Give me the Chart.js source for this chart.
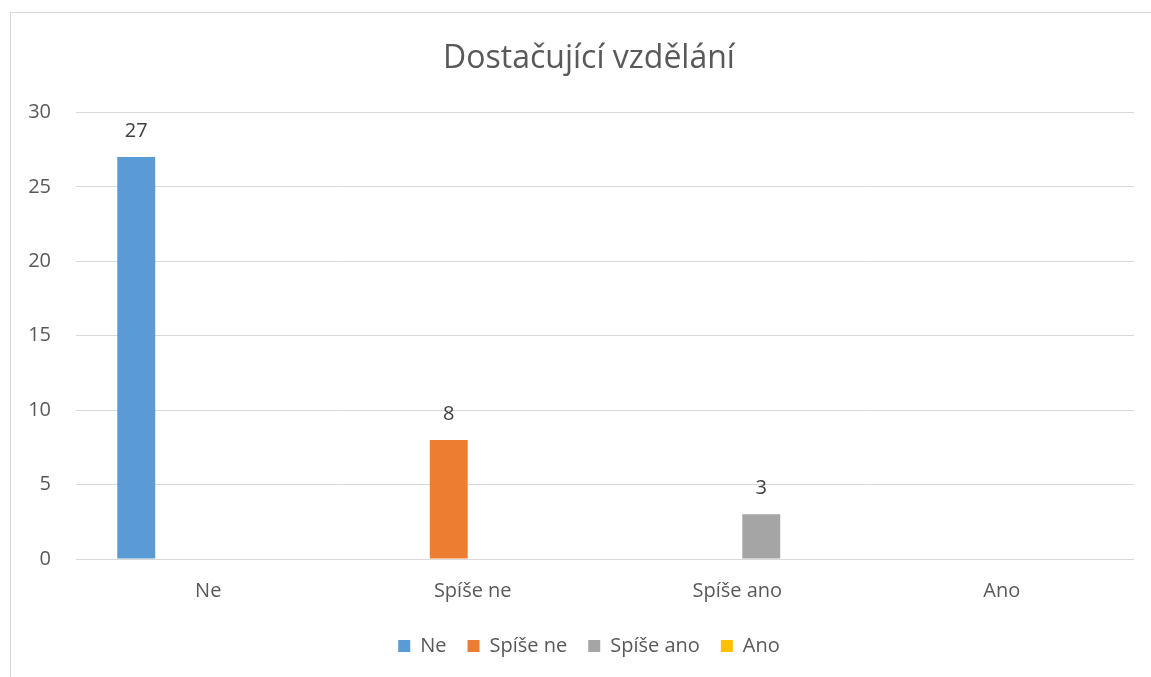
<!DOCTYPE html>
<html>
<head>
<meta charset="utf-8">
<script src="https://cdn.jsdelivr.net/npm/chart.js@4"></script>
<style>
  html, body { margin: 0; padding: 0; background: #fff; overflow: hidden; }
  #frame { position: absolute; left: 10px; top: 12px; width: 1156px; height: 680px; border: 1px solid #d9d9d9; box-sizing: border-box; }
  #frame canvas { position: absolute; left: 0; top: 0; }
</style>
</head>
<body>
<div id="frame"><canvas id="chart" width="1156" height="680"></canvas></div>
<script>
const categories = ['Ne', 'Spíše ne', 'Spíše ano', 'Ano'];
const counts = [27, 8, 3, null];
const colors = ['#5B9BD5', '#ED7D31', '#A5A5A5', '#FFC000'];
const yTicks = [0, 5, 10, 15, 20, 25, 30];

const fontFamily = "'Open Sans', 'Noto Sans', sans-serif";

// one series per answer, value only in its own category (like the Excel sheet)
const datasets = categories.map((name, i) => ({
  label: name,
  data: categories.map((_, j) => (j === i ? counts[i] : null)),
  backgroundColor: colors[i],
  categoryPercentage: 0.726,
  barPercentage: 0.79
}));

const valueLabels = {
  id: 'valueLabels',
  afterDatasetsDraw(chart) {
    const ctx = chart.ctx;
    ctx.save();
    ctx.font = '20px ' + fontFamily;
    ctx.fillStyle = '#404040';
    ctx.textAlign = 'center';
    ctx.textBaseline = 'middle';
    chart.data.datasets.forEach((ds, i) => {
      chart.getDatasetMeta(i).data.forEach((bar, j) => {
        const v = ds.data[j];
        if (v === null || v === undefined) return;
        ctx.fillText(String(v), bar.x, bar.y - 26);
      });
    });
    ctx.restore();
  }
};

new Chart(document.getElementById('chart'), {
  type: 'bar',
  data: { labels: categories, datasets: datasets },
  options: {
    responsive: false,
    animation: false,
    layout: { padding: { left: 0, right: 0, top: 0, bottom: 27 } },
    plugins: {
      title: {
        display: true,
        text: 'Dostačující vzdělání',
        color: '#595959',
        font: { family: fontFamily, size: 32, weight: 'normal' },
        padding: { top: 27, bottom: 34 }
      },
      legend: {
        position: 'bottom',
        labels: {
          color: '#595959',
          font: { family: fontFamily, size: 20 },
          boxWidth: 12,
          boxHeight: 12,
          padding: 21
        }
      },
      tooltip: { enabled: false }
    },
    scales: {
      x: {
        grid: { display: false },
        border: { display: false },
        ticks: { color: '#595959', font: { family: fontFamily, size: 20 }, padding: 12 }
      },
      y: {
        min: 0,
        max: 30,
        afterBuildTicks(scale) { scale.ticks = yTicks.map(v => ({ value: v })); },
        afterFit(scale) { scale.width = 65; },
        grid: { color: '#d9d9d9', drawTicks: false },
        border: { display: false },
        ticks: { color: '#595959', font: { family: fontFamily, size: 20 }, padding: 25 }
      },
      // empty right-hand margin so title and legend stay centred on the frame
      yRight: {
        position: 'right',
        afterFit(scale) { scale.width = 33; },
        grid: { display: false },
        border: { display: false },
        ticks: { display: false }
      }
    }
  },
  plugins: [valueLabels]
});
</script>
</body>
</html>
